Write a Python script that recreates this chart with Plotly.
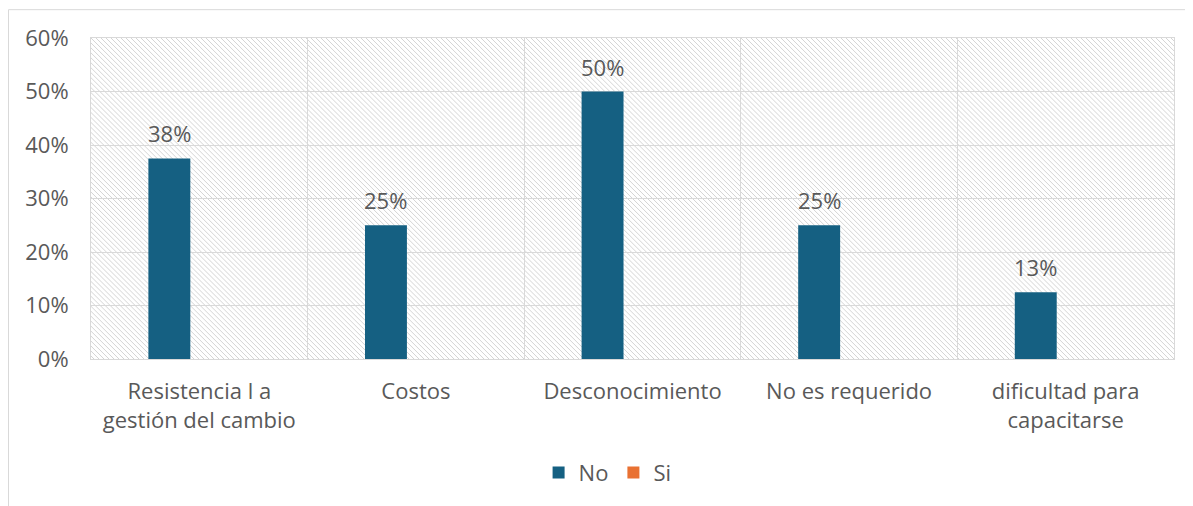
import base64
import math
import plotly.graph_objects as go

categories = [
    "Resistencia l a<br>gestión del cambio",
    "Costos",
    "Desconocimiento",
    "No es requerido",
    "dificultad para<br>capacitarse",
]
no_values = [0.375, 0.25, 0.50, 0.25, 0.125]
si_values = [0, 0, 0, 0, 0]
y_tick_vals = [0, 0.1, 0.2, 0.3, 0.4, 0.5, 0.6]
y_tick_text = ["0%", "10%", "20%", "30%", "40%", "50%", "60%"]

# page has an 8px body margin, so the figure is drawn 8px in from the corner
W, H = 1185, 498
ML, MR, MT, MB = 83, 19, 30, 145
PW, PH = W - ML - MR, H - MT - MB

FONT = "Open Sans"
FS = 22
TXT = "#595959"
GRID = "#d9d9d9"

# hatch background (pixel diagonal pattern)
P = 5
px = "".join(f"<rect x='{i}' y='{i}' width='1' height='1' fill='#d4d4d4'/>" for i in range(P))
svg = (
    f"<svg xmlns='http://www.w3.org/2000/svg' width='{PW}' height='{PH}' "
    f"viewBox='0 0 {PW} {PH}' shape-rendering='crispEdges'>"
    f"<defs><pattern id='p' width='{P}' height='{P}' patternUnits='userSpaceOnUse'>{px}</pattern></defs>"
    f"<rect width='100%' height='100%' fill='white'/>"
    f"<rect width='100%' height='100%' fill='url(#p)'/></svg>"
)
src = "data:image/svg+xml;base64," + base64.b64encode(svg.encode()).decode()

fig = go.Figure()
fig.add_trace(go.Bar(name="No", x=categories, y=no_values, marker_color="#156082",
                     marker_line_width=0, hoverinfo="skip"))
fig.add_trace(go.Bar(name="Si", x=categories, y=si_values, marker_color="#E97132",
                     marker_line_width=0, hoverinfo="skip"))

for c, v in zip(categories, no_values):
    fig.add_annotation(x=c, y=v, text=f"{math.floor(v * 100 + 0.5)}%", showarrow=False,
                       xshift=-30, yshift=8, yanchor="bottom",
                       font=dict(family=FONT, size=FS, color=TXT))

fig.update_layout(
    width=W, height=H,
    margin=dict(l=ML, r=MR, t=MT, b=MB, pad=0),
    paper_bgcolor="white",
    plot_bgcolor="rgba(0,0,0,0)",
    barmode="group",
    bargap=0.447,
    bargroupgap=0.3,
    font=dict(family=FONT, size=FS, color=TXT),
    showlegend=True,
    legend=dict(orientation="h", x=0.477, xanchor="center", y=-0.354, yanchor="middle",
                font=dict(family=FONT, size=FS, color=TXT), itemsizing="constant",
                traceorder="normal", bgcolor="rgba(0,0,0,0)", itemwidth=30),
    images=[dict(source=src, xref="paper", yref="paper", x=0, y=1, sizex=1, sizey=1,
                 xanchor="left", yanchor="top", sizing="stretch", layer="below")],
    shapes=[dict(type="rect", xref="paper", yref="paper",
                 x0=(0.5 - ML) / PW, x1=1.2, y0=-0.8, y1=(MT + PH - 1.5) / PH,
                 line=dict(color=GRID, width=1), fillcolor="rgba(0,0,0,0)", layer="below")],
)

fig.update_xaxes(
    type="category", tickson="boundaries", showgrid=True, gridcolor=GRID, gridwidth=1,
    showline=True, linecolor=GRID, linewidth=1, mirror=True, ticks="",
    ticklabelstandoff=13, tickfont=dict(family=FONT, size=FS, color=TXT),
    range=[-0.5, 4.5], fixedrange=True,
)
fig.update_yaxes(
    range=[0, 0.6], tickvals=y_tick_vals, ticktext=y_tick_text, showgrid=True,
    gridcolor=GRID, gridwidth=1, showline=True, linecolor=GRID, linewidth=1, mirror=True,
    zeroline=False, ticks="", ticklabelstandoff=17,
    tickfont=dict(family=FONT, size=FS, color=TXT), fixedrange=True,
)

fig.write_html("out.html")
